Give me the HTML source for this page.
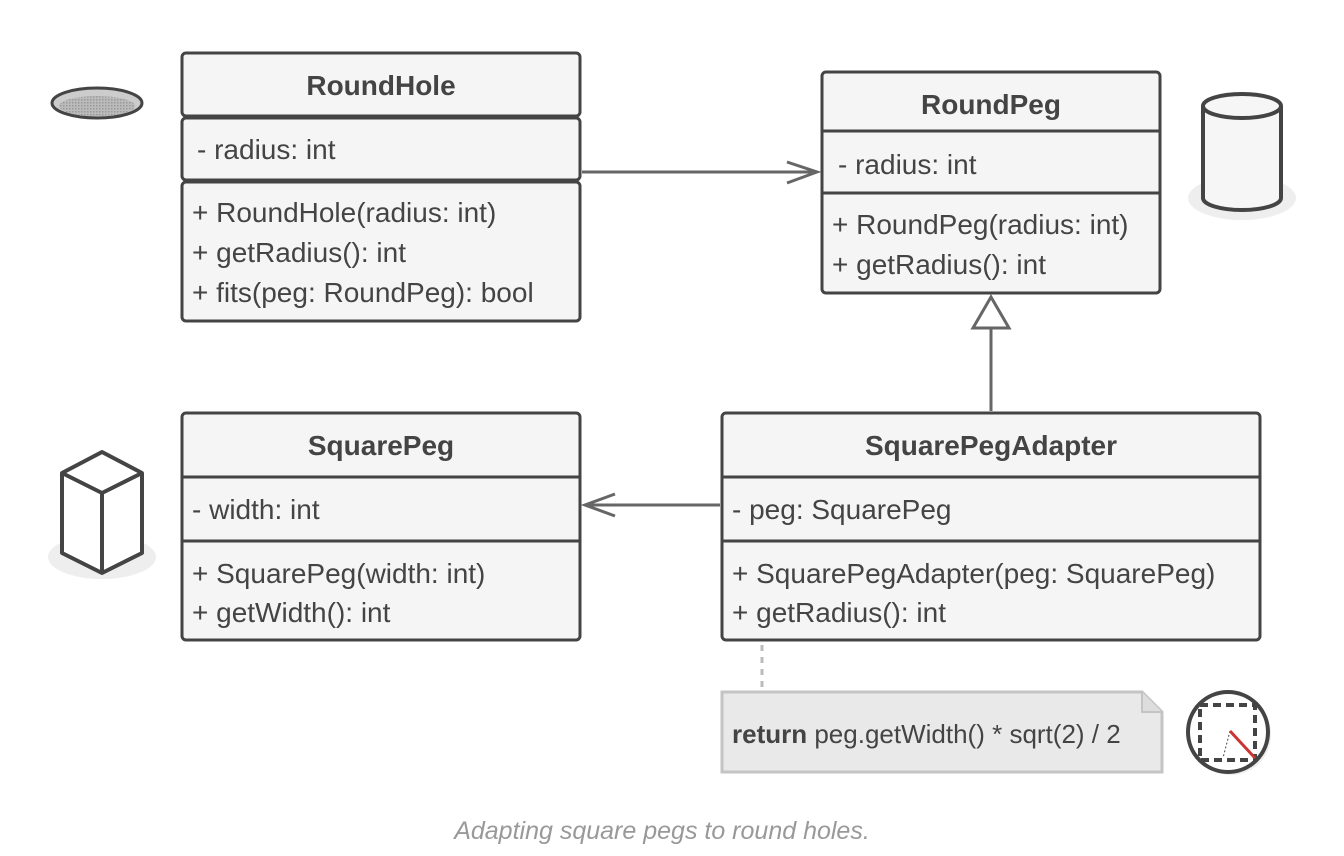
<!DOCTYPE html>
<html><head><meta charset="utf-8"><style>
html,body{margin:0;padding:0;background:#fff;}
svg{display:block;}
text{font-family:"Liberation Sans",sans-serif;fill:#444;}
.m{font-size:28px;}
.h{font-size:28px;font-weight:bold;}
</style></head><body>
<svg width="1344" height="856" viewBox="0 0 1344 856" xmlns="http://www.w3.org/2000/svg">
<defs>
<pattern id="dots" width="3" height="3" patternUnits="userSpaceOnUse"><rect width="3" height="3" fill="#bbb"/><rect width="1.5" height="1.5" fill="#999"/></pattern>
</defs>
<ellipse cx="97" cy="103" rx="45" ry="15" fill="#ccc" stroke="#444" stroke-width="3"/>
<ellipse cx="97" cy="106" rx="38" ry="10" fill="url(#dots)"/>
<ellipse cx="1242" cy="198" rx="54" ry="22" fill="#eee"/>
<path d="M1203 106 V198 A39 12 0 0 0 1281 198 V106" fill="#f6f6f6" stroke="#444" stroke-width="4"/>
<ellipse cx="1242" cy="106" rx="39" ry="12" fill="#f6f6f6" stroke="#444" stroke-width="4"/>
<ellipse cx="102" cy="557" rx="54" ry="22" fill="#eee"/>
<path d="M102 452 L142 473 L142 553 L102 573 L62 553 L62 473 Z" fill="#fff" stroke="#444" stroke-width="4" stroke-linejoin="round"/>
<path d="M62 473 L102 493 L142 473 M102 493 V573" fill="none" stroke="#444" stroke-width="4" stroke-linejoin="round"/>

<g stroke="#444" stroke-width="3" fill="#f5f5f5">
<rect x="182" y="53" width="398" height="63" rx="4"/>
<rect x="182" y="118" width="398" height="62" rx="4"/>
<rect x="182" y="182" width="398" height="139" rx="4"/>
</g>
<text class="h" x="381" y="95" text-anchor="middle">RoundHole</text>
<text class="m" x="197" y="159">- radius: int</text>
<text class="m" x="192" y="222">+ RoundHole(radius: int)</text>
<text class="m" x="192" y="262">+ getRadius(): int</text>
<text class="m" x="192" y="302">+ fits(peg: RoundPeg): bool</text>

<g stroke="#444" stroke-width="3" fill="#f5f5f5">
<rect x="822" y="72" width="338" height="221" rx="4"/>
</g>
<path d="M822 131 H1160 M822 193 H1160" stroke="#444" stroke-width="3"/>
<text class="h" x="991" y="114" text-anchor="middle">RoundPeg</text>
<text class="m" x="838" y="174">- radius: int</text>
<text class="m" x="832" y="234">+ RoundPeg(radius: int)</text>
<text class="m" x="832" y="274">+ getRadius(): int</text>

<g stroke="#444" stroke-width="3" fill="#f5f5f5">
<rect x="182" y="413" width="398" height="227" rx="4"/>
</g>
<path d="M182 477 H580 M182 541 H580" stroke="#444" stroke-width="3"/>
<text class="h" x="381" y="455" text-anchor="middle">SquarePeg</text>
<text class="m" x="192" y="519">- width: int</text>
<text class="m" x="192" y="583">+ SquarePeg(width: int)</text>
<text class="m" x="192" y="622">+ getWidth(): int</text>

<g stroke="#444" stroke-width="3" fill="#f5f5f5">
<rect x="722" y="413" width="538" height="227" rx="4"/>
</g>
<path d="M722 477 H1260 M722 541 H1260" stroke="#444" stroke-width="3"/>
<text class="h" x="991" y="455" text-anchor="middle">SquarePegAdapter</text>
<text class="m" x="732" y="519">- peg: SquarePeg</text>
<text class="m" x="732" y="583">+ SquarePegAdapter(peg: SquarePeg)</text>
<text class="m" x="732" y="622">+ getRadius(): int</text>

<g stroke="#666" stroke-width="3" fill="none">
<path d="M582 172 H817"/>
<path d="M787 162 L817 172 L787 183"/>
<path d="M720 505 H586"/>
<path d="M615 494 L585 505 L615 516"/>
<path d="M991 411 V329"/>
<path d="M991 297 L1009 328 H973 Z" fill="#fff"/>
</g>
<path d="M762 645 V690" stroke="#bbb" stroke-width="3" stroke-dasharray="6 6"/>

<path d="M722 692 H1142 L1162 712 V772 H722 Z" fill="#e9e9e9" stroke="#c4c4c4" stroke-width="3"/>
<path d="M1142 692 V712 H1162" fill="#ddd" stroke="#c4c4c4" stroke-width="2"/>
<text x="732" y="743" style="font-size:26px"><tspan font-weight="bold">return</tspan> peg.getWidth() * sqrt(2) / 2</text>

<circle cx="1231" cy="735" r="40" fill="#eee"/>
<circle cx="1228" cy="732" r="40" fill="#fff" stroke="#444" stroke-width="4"/>
<rect x="1200" y="705" width="55" height="55" fill="none" stroke="#444" stroke-width="4" stroke-dasharray="8 5"/>
<path d="M1230 731 L1223 758" stroke="#444" stroke-width="1" stroke-dasharray="2 2"/>
<path d="M1230 731 L1255 758" stroke="#c33" stroke-width="3"/>

<text x="662" y="839" text-anchor="middle" style="font-size:25px;font-style:italic;fill:#999">Adapting square pegs to round holes.</text>
</svg>
</body></html>
